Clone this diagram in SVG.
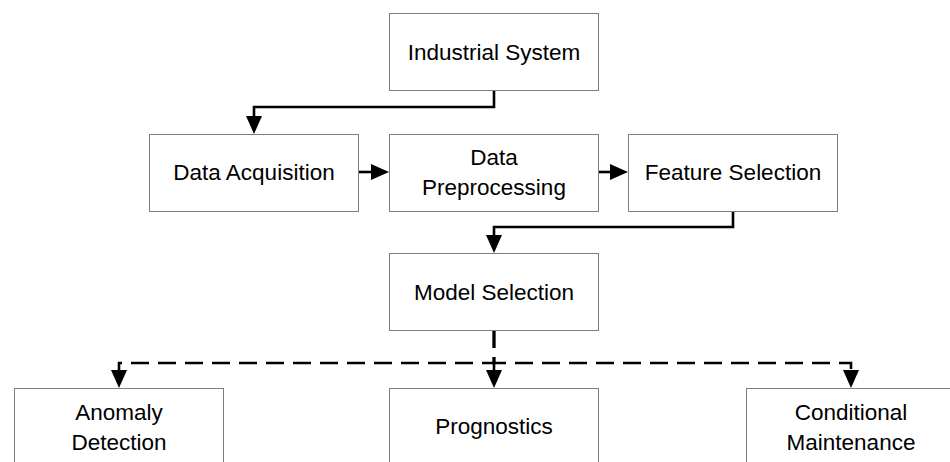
<svg xmlns="http://www.w3.org/2000/svg" width="950" height="462" viewBox="0 0 950 462">
  <style>
    .box { fill: #ffffff; stroke: #7f7f7f; stroke-width: 1; }
    .lbl { font-family: "Liberation Sans", Arial, sans-serif; font-size: 22.5px; fill: #000000; text-anchor: middle; }
    .conn { fill: none; stroke: #000000; stroke-width: 2.6; }
    .dash { stroke-dasharray: 18 9; }
  </style>
  <defs>
    <marker id="arrow" markerUnits="userSpaceOnUse" viewBox="0 0 18 16" markerWidth="18" markerHeight="16" refX="14" refY="8" orient="auto">
      <path d="M0,0 L18,8 L0,16 Z" fill="#000000" stroke="none"/>
    </marker>
  </defs>
  <rect x="0" y="0" width="950" height="462" fill="#ffffff"/>

  <g id="connectors">
    <path class="conn" d="M494,90 V107 H254 V130" marker-end="url(#arrow)"/>
    <path class="conn" d="M358,172 H385" marker-end="url(#arrow)"/>
    <path class="conn" d="M598,172 H624" marker-end="url(#arrow)"/>
    <path class="conn" d="M733,211 V227 H494 V249" marker-end="url(#arrow)"/>
    <path class="conn dash" d="M494,330 V363 H119 V384" marker-end="url(#arrow)"/>
    <path class="conn dash" d="M494,330 V384" marker-end="url(#arrow)"/>
    <path class="conn dash" d="M494,330 V363 H851 V384" marker-end="url(#arrow)"/>
  </g>

  <g id="industrial-system">
    <rect class="box" x="389.5" y="13.5" width="209" height="77"/>
    <text class="lbl" x="494" y="59.5">Industrial System</text>
  </g>
  <g id="data-acquisition">
    <rect class="box" x="149.5" y="134.5" width="209" height="77"/>
    <text class="lbl" x="254" y="180">Data Acquisition</text>
  </g>
  <g id="data-preprocessing">
    <rect class="box" x="389.5" y="134.5" width="209" height="77"/>
    <text class="lbl" x="494" y="164.5">Data</text>
    <text class="lbl" x="494" y="194.5">Preprocessing</text>
  </g>
  <g id="feature-selection">
    <rect class="box" x="628.5" y="134.5" width="209" height="77"/>
    <text class="lbl" x="733" y="180">Feature Selection</text>
  </g>
  <g id="model-selection">
    <rect class="box" x="389.5" y="253.5" width="209" height="77"/>
    <text class="lbl" x="494" y="299.5">Model Selection</text>
  </g>
  <g id="anomaly-detection">
    <rect class="box" x="14.5" y="388.5" width="209" height="77"/>
    <text class="lbl" x="119" y="419.5">Anomaly</text>
    <text class="lbl" x="119" y="449.5">Detection</text>
  </g>
  <g id="prognostics">
    <rect class="box" x="389.5" y="388.5" width="209" height="77"/>
    <text class="lbl" x="494" y="433.5">Prognostics</text>
  </g>
  <g id="conditional-maintenance">
    <rect class="box" x="746.5" y="388.5" width="209" height="77"/>
    <text class="lbl" x="851" y="419.5">Conditional</text>
    <text class="lbl" x="851" y="449.5">Maintenance</text>
  </g>
</svg>
